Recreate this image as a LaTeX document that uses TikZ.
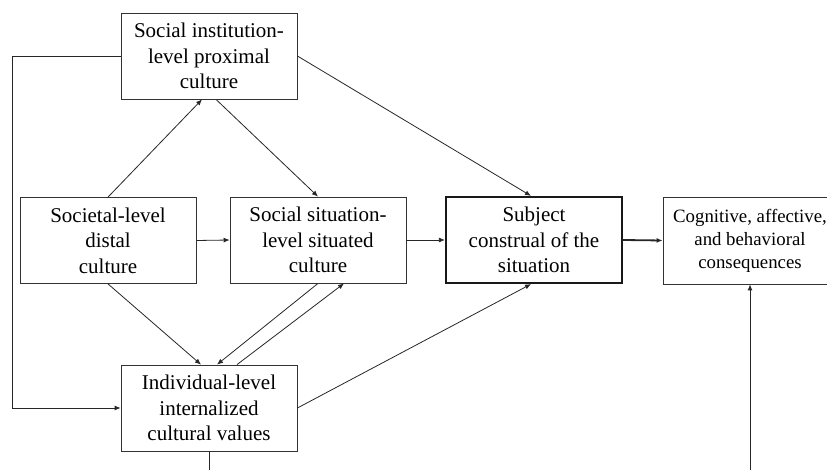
\documentclass[tikz,border=0pt]{standalone}
\usepackage{fontspec}
\setmainfont{Liberation Serif}
\usetikzlibrary{arrows.meta,calc}
\begin{document}
\begin{tikzpicture}[x=1pt,y=-1pt,
  box/.style={draw=black!80,line width=0.8pt,minimum width=176pt,minimum height=86pt,inner sep=0pt,align=center,font=\fontsize{21}{25.5}\selectfont},
  conn/.style={draw=black!85,line width=0.8pt},
  arr/.style={conn,-{Latex[length=6pt,width=5pt]}}]
\useasboundingbox (0,0) rectangle (827,470);
\node[box] (SI) at (209,56) {Social institution-\\level proximal\\culture};
\node[box] (SL) at (108,240.5) {Societal-level\\distal\\culture};
\node[box] (SS) at (318,240) {Social situation-\\level situated\\culture};
\node[box,line width=2.2pt,draw=black!90] (SC) at (534,240) {Subject\\construal of the\\situation};
\node[box,minimum width=174pt,minimum height=87pt,font=\fontsize{18.8}{23}\selectfont] (CG) at (750,240.5) {Cognitive, affective,\\and behavioral\\consequences};
\node[box] (IL) at (209,408) {Individual-level\\internalized\\cultural values};
\coordinate (L) at (12,0);
\coordinate (B1) at (209,470);
\coordinate (B2) at (750,470);
\draw[arr] (SL.north) -- ($(SI.south)+(-7,0)$);
\draw[arr] ($(SI.south)+(7,0)$) -- (SS.north);
\draw[arr] (SI.east) -- ($(SC.north)+(-3,0)$);
\draw[arr] (SL.east) -- (SS.west);
\draw[arr] (SS.east) -- (SC.west);
\draw[arr,line width=1.8pt] (SC.east) -- (CG.west);
\draw[arr] (SL.south) -- ($(IL.north)+(-8,0)$);
\draw[arr] (SS.south) -- ($(IL.north)+(8,0)$);
\draw[arr] ($(IL.north)+(28,0)$) -- ($(SS.south)+(26,0)$);
\draw[arr] (IL.east) -- ($(SC.south)+(-3,0)$);
\draw[arr] (SI.west) -- (SI.west -| L) |- (IL.west);
\draw[conn] (IL.south) -- (B1);
\draw[arr] (B2) -- (CG.south);
\end{tikzpicture}
\end{document}
